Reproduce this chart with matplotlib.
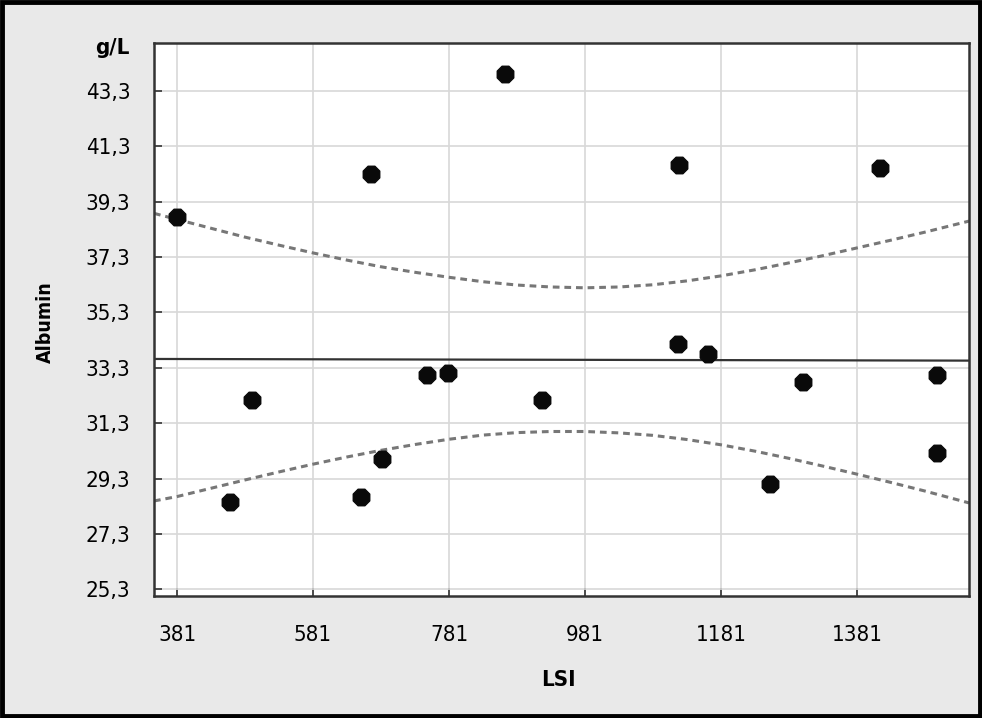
import matplotlib
matplotlib.use('Agg')
import matplotlib.pyplot as plt

plt.rcParams['font.family'] = ['DejaVu Sans']
plt.rcParams['font.stretch'] = 'condensed'

# scatter data (LSI vs albumin, g/L)
lsi = [381, 459, 491, 652, 666, 683, 749, 780, 863, 918,
       1118, 1119, 1162, 1253, 1302, 1415, 1499, 1499]
albumin = [38.73, 28.46, 32.15, 28.64, 40.29, 30.01, 33.05, 33.12, 43.90, 32.15,
           34.17, 40.61, 33.81, 29.11, 32.80, 40.50, 33.05, 30.23]

# regression line and confidence band
line_x = [347, 1546]
line_y = [33.62, 33.56]
band_x = [347, 381, 431, 481, 531, 581, 631, 681, 731, 781, 831, 881, 931, 981,
          1031, 1081, 1131, 1181, 1231, 1281, 1331, 1381, 1431, 1481, 1546]
band_upper = [38.88, 38.66, 38.34, 38.02, 37.73, 37.45, 37.19, 36.95, 36.75, 36.57,
              36.41, 36.29, 36.22, 36.19, 36.22, 36.30, 36.44, 36.62, 36.84, 37.09,
              37.35, 37.63, 37.91, 38.20, 38.60]
band_lower = [28.49, 28.65, 28.95, 29.25, 29.54, 29.82, 30.08, 30.32, 30.53, 30.72,
              30.87, 30.96, 31.00, 31.00, 30.95, 30.86, 30.71, 30.52, 30.29, 30.03,
              29.75, 29.46, 29.16, 28.85, 28.42]

x_ticks = [381, 581, 781, 981, 1181, 1381]
y_ticks = [25.3, 27.3, 29.3, 31.3, 33.3, 35.3, 37.3, 39.3, 41.3, 43.3]

bg = '#e9e9e9'
fig = plt.figure(figsize=(9.82, 7.18), dpi=100, facecolor=bg)
ax = fig.add_axes([0.1568, 0.170, 0.830, 0.770])
ax.set_facecolor('white')

ax.set_xlim(347, 1546)
ax.set_ylim(25.06, 45.03)

ax.grid(True, color='#d8d8d8', linewidth=1.2, zorder=0)
ax.set_axisbelow(True)

ax.plot(band_x, band_upper, color='#777777', lw=2.2, ls=(0, (2.2, 1.6)), zorder=2)
ax.plot(band_x, band_lower, color='#777777', lw=2.2, ls=(0, (2.2, 1.6)), zorder=2)
ax.plot(line_x, line_y, color='#333333', lw=1.6, zorder=3)
ax.scatter(lsi, albumin, s=165, marker='8', color='#0a0a0a', zorder=4)

ax.set_xticks(x_ticks)
ax.set_xticklabels([str(v) for v in x_ticks])
ax.set_yticks(y_ticks)
ax.set_yticklabels([f'{v:.1f}'.replace('.', ',') for v in y_ticks])

ax.tick_params(axis='both', direction='in', length=6, width=1.2, color='#333333',
               labelsize=16, labelcolor='black')
ax.tick_params(axis='y', pad=17)
ax.tick_params(axis='x', pad=21)

for sp in ax.spines.values():
    sp.set_color('#333333')
    sp.set_linewidth(1.8)

fig.text(130 / 982, 1 - 48 / 718, 'g/L', ha='right', va='center',
         fontsize=16, fontweight='bold')
fig.text(45 / 982, 1 - 322 / 718, 'Albumin', ha='center', va='center',
         rotation=90, fontsize=14, fontweight='bold')
fig.text(558 / 982, 1 - 680 / 718, 'LSI', ha='center', va='center',
         fontsize=16, fontweight='bold')

# black frame round the whole figure
fig.patches.append(plt.Rectangle((0.002, 0.003), 0.996, 0.994, transform=fig.transFigure,
                                 fill=False, edgecolor='black', linewidth=3.5))

fig.savefig('out.png', dpi=100, facecolor=bg)
